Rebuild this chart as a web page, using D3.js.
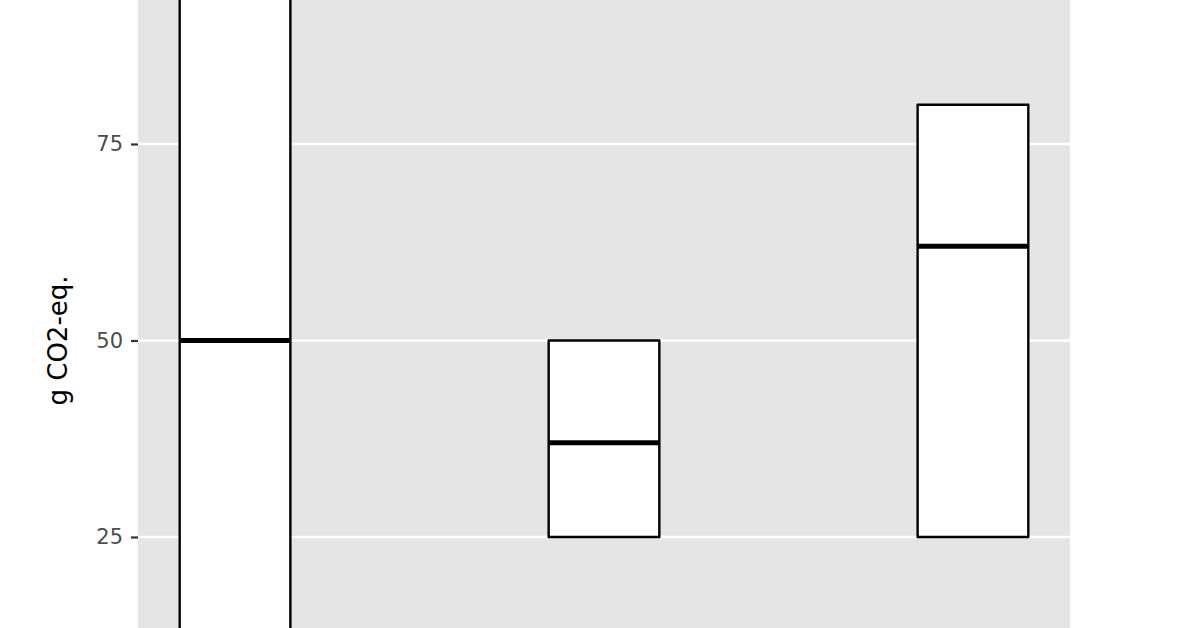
<!DOCTYPE html>
<html lang="en">
<head>
<meta charset="UTF-8">
<title>Crossbar chart</title>
<script src="https://d3js.org/d3.v7.min.js"></script>
<style>
  body { margin: 0; background: #fff; }
  svg { display: block; }
</style>
</head>
<body>
<svg id="chart" width="1196" height="628"></svg>
<script>
// data (first bar runs past the visible panel)
const categories = ['A', 'B', 'C'];
const lowValues = [0, 25, 25];
const medianValues = [50, 37, 62];
const highValues = [100, 50, 80];
const yTicks = [25, 50, 75];

const svg = d3.select('#chart');
const panel = { left: 138, right: 1070, top: 0, bottom: 628 };
const font = '"DejaVu Sans", Verdana, sans-serif';

const x = d3.scalePoint()
    .domain(categories)
    .range([panel.left, panel.right])
    .padding(0.263);

const y = d3.scaleLinear()
    .domain([25, 75])
    .range([537, 144]);

const boxWidth = x.step() * 0.3;

// panel background
svg.append('rect')
    .attr('x', panel.left)
    .attr('y', panel.top)
    .attr('width', panel.right - panel.left)
    .attr('height', panel.bottom - panel.top)
    .attr('fill', '#e5e5e5');

svg.append('clipPath')
    .attr('id', 'clip')
    .append('rect')
    .attr('x', panel.left)
    .attr('y', panel.top)
    .attr('width', panel.right - panel.left)
    .attr('height', panel.bottom - panel.top);

// grid lines
svg.append('g')
    .selectAll('line')
    .data(yTicks)
    .join('line')
    .attr('x1', panel.left)
    .attr('x2', panel.right)
    .attr('y1', d => y(d))
    .attr('y2', d => y(d))
    .attr('stroke', '#fff')
    .attr('stroke-width', 2.6);

// y axis
const yAxis = d3.axisLeft(y)
    .tickValues(yTicks)
    .tickSize(7)
    .tickPadding(8);

svg.append('g')
    .attr('transform', `translate(${panel.left},0)`)
    .call(yAxis)
    .call(g => g.select('.domain').remove())
    .call(g => g.selectAll('.tick line').attr('stroke', '#333').attr('stroke-width', 2.2))
    .call(g => g.selectAll('.tick text')
        .attr('fill', '#4d4d4d')
        .style('font-family', font)
        .style('font-size', '21px'));

svg.append('text')
    .attr('transform', `translate(67,${y(50)}) rotate(-90)`)
    .attr('text-anchor', 'middle')
    .style('font-family', font)
    .style('font-size', '26px')
    .attr('fill', '#000')
    .text('g CO2-eq.');

// crossbars
const bars = svg.append('g')
    .attr('clip-path', 'url(#clip)')
    .selectAll('g')
    .data(categories)
    .join('g');

bars.append('rect')
    .attr('x', d => x(d) - boxWidth / 2)
    .attr('y', (d, i) => y(highValues[i]))
    .attr('width', boxWidth)
    .attr('height', (d, i) => y(lowValues[i]) - y(highValues[i]))
    .attr('fill', '#fff')
    .attr('stroke', '#000')
    .attr('stroke-width', 2.4)
    .attr('stroke-linejoin', 'round');

bars.append('line')
    .attr('x1', d => x(d) - boxWidth / 2)
    .attr('x2', d => x(d) + boxWidth / 2)
    .attr('y1', (d, i) => y(medianValues[i]))
    .attr('y2', (d, i) => y(medianValues[i]))
    .attr('stroke', '#000')
    .attr('stroke-width', 5);
</script>
</body>
</html>
